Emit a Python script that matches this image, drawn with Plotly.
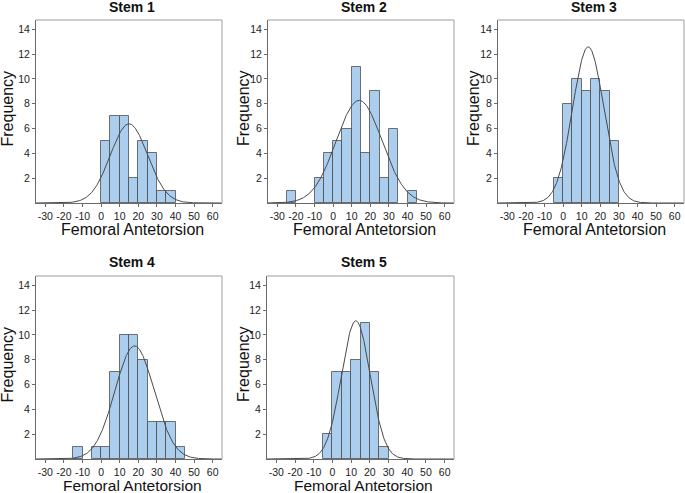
import numpy as np
import plotly.graph_objects as go

# ---- data ----
bin_width = 5
stem_titles = ["Stem 1", "Stem 2", "Stem 3", "Stem 4", "Stem 5"]

stem1_bins = [0, 5, 10, 15, 20, 25, 30, 35]
stem1_counts = [5, 7, 7, 2, 5, 4, 1, 1]

stem2_bins = [-25, -10, -5, 0, 5, 10, 15, 20, 25, 30, 40]
stem2_counts = [1, 2, 4, 5, 6, 11, 4, 9, 2, 6, 1]

stem3_bins = [-5, 0, 5, 10, 15, 20, 25]
stem3_counts = [2, 8, 10, 9, 10, 9, 5]

stem4_bins = [-15, -5, 0, 5, 10, 15, 20, 25, 30, 35, 40]
stem4_counts = [1, 1, 1, 7, 10, 10, 8, 3, 3, 3, 1]

stem5_bins = [-5, 0, 5, 10, 15, 20, 25]
stem5_counts = [2, 7, 7, 8, 11, 7, 1]

# fitted normal curve parameters (mean, sd)
curve_means = [15.0, 14.0, 13.5, 18.0, 12.5]
curve_sds = [10.0, 12.3, 8.4, 10.5, 7.7]

x_tick_vals = [-30, -20, -10, 0, 10, 20, 30, 40, 50, 60]
x_tick_labels = ["-30", "-20", "-10", "0", "10", "20", "30", "40", "50", "60"]
y_tick_vals = [2, 4, 6, 8, 10, 12, 14]

all_bins = [stem1_bins, stem2_bins, stem3_bins, stem4_bins, stem5_bins]
all_counts = [stem1_counts, stem2_counts, stem3_counts, stem4_counts, stem5_counts]

# ---- layout geometry (pixels) ----
W, H = 685, 493
panels = [  # left, right, top, bottom in px
    (36, 222, 20, 203),
    (268, 454, 20, 203),
    (498, 684, 20, 203),
    (36, 222, 276, 459),
    (267, 454, 276, 459),
]
ytitle_offsets = [29, 24.5, 24.5, 29, 23.5]

FONT = "Liberation Sans, Arial, Helvetica, sans-serif"
fig = go.Figure()
annotations = []
shapes = []

for i in range(5):
    n = "" if i == 0 else str(i + 1)
    xa, ya = "x" + n, "y" + n
    bins = np.array(all_bins[i], dtype=float)
    counts = np.array(all_counts[i], dtype=float)
    fig.add_trace(go.Bar(
        x=bins + bin_width / 2, y=counts, width=bin_width,
        marker=dict(color="#abcdee", line=dict(color="rgba(70,70,70,0.75)", width=1)),
        xaxis=xa, yaxis=ya, showlegend=False, hoverinfo="skip",
    ))
    total = counts.sum()
    xs = np.linspace(-35, 65, 400)
    mu, sd = curve_means[i], curve_sds[i]
    ys = total * bin_width * np.exp(-0.5 * ((xs - mu) / sd) ** 2) / (sd * np.sqrt(2 * np.pi))
    fig.add_trace(go.Scatter(
        x=xs, y=ys, mode="lines", line=dict(color="#4a4a4a", width=1),
        xaxis=xa, yaxis=ya, showlegend=False, hoverinfo="skip",
    ))

    l, r, t, b = panels[i]
    xd = [l / W, r / W]
    yd = [(H - b) / H, (H - t) / H]
    axis_common = dict(
        showgrid=False, zeroline=False, showline=True, linecolor="#6a6a6a",
        linewidth=1, ticks="outside", tickcolor="#6a6a6a", ticklen=3,
        tickfont=dict(family=FONT, size=10.5, color="#222"),
    )
    fig.layout["xaxis" + n] = dict(
        domain=xd, range=[-35, 65], tickvals=x_tick_vals, ticktext=x_tick_labels,
        anchor=ya, tickangle=0, **axis_common)
    fig.layout["yaxis" + n] = dict(
        domain=yd, range=[0, 14.75], tickvals=y_tick_vals, anchor=xa, **axis_common)

    # light frame on top/right
    shapes.append(dict(type="line", xref="paper", yref="paper",
                       x0=xd[0], x1=xd[1], y0=yd[1], y1=yd[1],
                       line=dict(color="#bdbdbd", width=1.5)))
    shapes.append(dict(type="line", xref="paper", yref="paper",
                       x0=xd[1], x1=xd[1], y0=yd[0], y1=yd[1],
                       line=dict(color="#bdbdbd", width=1.5)))

    cx = (l + r) / 2
    title_y = 7 if i < 3 else 262
    xt_y = b + 27 if i < 3 else 485
    xt_size = 16 if i < 3 else 15.5
    annotations.append(dict(
        text="<b>" + stem_titles[i] + "</b>", x=(cx + 3) / W, y=(H - title_y) / H,
        xref="paper", yref="paper", xanchor="center", yanchor="middle",
        showarrow=False, font=dict(family=FONT, size=14, color="#111")))
    annotations.append(dict(
        text="Femoral Antetorsion", x=(cx + 3) / W, y=(H - xt_y) / H,
        xref="paper", yref="paper", xanchor="center", yanchor="middle",
        showarrow=False, borderpad=0,
        font=dict(family=FONT, size=xt_size, color="#111")))
    annotations.append(dict(
        text="Frequency", x=(l - ytitle_offsets[i]) / W, y=(H - ((t + b) / 2 - 3)) / H,
        xref="paper", yref="paper", xanchor="center", yanchor="middle",
        textangle=-90, showarrow=False, font=dict(family=FONT, size=16, color="#111")))

fig.update_layout(
    width=W, height=H, margin=dict(l=0, r=0, t=0, b=0),
    paper_bgcolor="white", plot_bgcolor="white",
    annotations=annotations, shapes=shapes, bargap=0,
)

fig.write_html(
    "out.html",
    config={"displayModeBar": False},
    post_script="document.body.style.margin='0';document.body.style.overflow='hidden';",
)
